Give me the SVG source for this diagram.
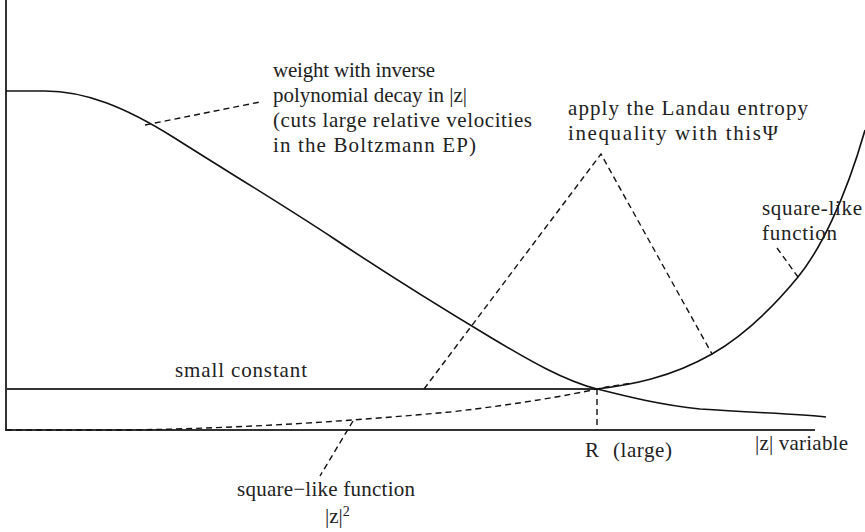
<svg xmlns="http://www.w3.org/2000/svg" width="865" height="532" viewBox="0 0 865 532">
<style>
.axis{stroke:#333;stroke-width:2;fill:none}
.curve{stroke:#111;stroke-width:1.6;fill:none}
.dash{stroke:#111;stroke-width:1.4;fill:none;stroke-dasharray:6,4}
text{font-family:"Liberation Serif","Times New Roman",serif;font-size:21px;fill:#222}
</style>
<rect width="865" height="532" fill="#fff"/>
<g id="axes">
<line class="axis" x1="6" y1="0" x2="6" y2="431"/>
<line class="axis" x1="5" y1="430" x2="815" y2="430"/>
</g>
<g id="small-constant">
<line class="axis" x1="6" y1="389" x2="597" y2="389"/>
<text x="175" y="377" textLength="132">small constant</text>
</g>
<g id="weight-curve">
<path class="curve" d="M6,91 L45,91 C85,91 125,107 173,137 C220,167 280,203 333,238 C375,266 450,313 490,337 C530,361 565,381 597,389 C625,396 660,405 700,409 C760,413 800,414 826,417"/>
</g>
<g id="square-curve">
<path class="curve" d="M597,389 C630,385 670,378 712,354 C745,335 775,305 798,277 C820,250 845,200 865,130"/>
</g>
<g id="z2-curve">
<path class="dash" d="M6,430 L130,430 C250,428 350,421 450,412 C520,404 570,395 597,389 C610,386 620,385 632,383"/>
</g>
<g id="connectors">
<line class="dash" x1="597" y1="389" x2="597" y2="430"/>
<line class="dash" x1="145" y1="125" x2="260" y2="102"/>
<polyline class="dash" points="424,389 601,154 712,354"/>
<line class="dash" x1="777" y1="248" x2="798" y2="277"/>
<line class="dash" x1="353" y1="421" x2="320" y2="476"/>
</g>
<g id="label-weight">
<text x="273" y="77" textLength="162">weight with inverse</text>
<text x="273" y="102" textLength="194">polynomial decay in |z|</text>
<text x="273" y="127" textLength="259">(cuts large relative velocities</text>
<text x="273" y="152" textLength="203">in the Boltzmann EP)</text>
</g>
<g id="label-landau">
<text x="568" y="115" textLength="240">apply the Landau entropy</text>
<text x="568" y="140" textLength="210">inequality with thisΨ</text>
</g>
<g id="label-square">
<text x="762" y="215" textLength="100">square-like</text>
<text x="762" y="240" textLength="75">function</text>
</g>
<g id="label-z2">
<text x="237" y="496" textLength="178">square−like function</text>
<text x="325" y="523">|z|<tspan dy="-7" font-size="14">2</tspan></text>
</g>
<g id="label-R">
<text x="585" y="457">R</text>
<text x="613" y="457" textLength="59">(large)</text>
</g>
<g id="label-x">
<text x="755" y="450" textLength="93">|z| variable</text>
</g>
</svg>
